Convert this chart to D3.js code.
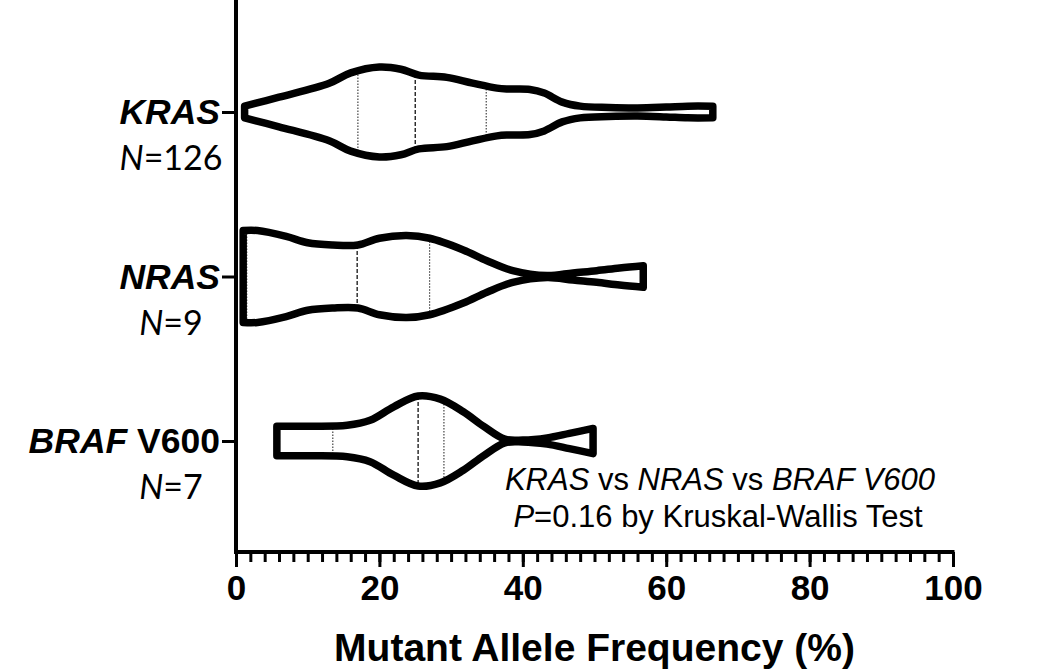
<!DOCTYPE html>
<html>
<head>
<meta charset="utf-8">
<script src="https://cdn.jsdelivr.net/npm/d3@7"></script>
<style>
  body { margin: 0; background: #fff; }
  svg { display: block; }
  text { fill: #000; }
</style>
</head>
<body>
<div id="chart"></div>
<script>
// groups, sample sizes
var groups = ["KRAS", "NRAS", "BRAF V600"];
var counts = [126, 9, 7];

// violin outlines: value (%) and relative half-width
var krasX = [1.2, 6, 13, 16, 20, 23, 25.5, 29.4, 33, 36.4, 38, 41, 43, 45.5, 48, 52, 56, 60, 63, 66.5];
var krasD = [0.13, 0.33, 0.64, 0.87, 1.0, 0.95, 0.82, 0.77, 0.64, 0.53, 0.51, 0.50, 0.42, 0.22, 0.13, 0.10, 0.09, 0.11, 0.13, 0.13];
var nrasX = [1.0, 3, 7, 10, 13.5, 17, 20, 23.8, 27, 31.7, 35, 38.6, 43.4, 47, 50.3, 53.5, 56.8];
var nrasD = [1.02, 1.02, 0.89, 0.75, 0.70, 0.70, 0.85, 0.91, 0.85, 0.59, 0.35, 0.13, 0.02, 0.08, 0.13, 0.19, 0.24];
var brafX = [5.7, 10, 15.5, 18.7, 22, 25.4, 28.5, 31.7, 34.5, 37.5, 40, 43.4, 46.5, 49.8];
var brafD = [0.33, 0.33, 0.35, 0.46, 0.76, 1.0, 0.93, 0.65, 0.33, 0.04, 0.02, 0.07, 0.17, 0.28];

// quartiles
var q1 = [17, 1.5, 13.5];
var medians = [25, 16.9, 25.4];
var q3 = [34.9, 27, 29];

var xTicks = [0, 20, 40, 60, 80, 100];

var width = 1050, height = 670;

var svg = d3.select("#chart").append("svg")
  .attr("width", width)
  .attr("height", height);

var x = d3.scaleLinear().domain([0, 100]).range([236, 953]);
var y = d3.scalePoint().domain(groups).range([112, 441]);
var w = d3.scaleLinear().domain([0, 1]).range([0, 45]);
var axisY = 552;

var profiles = [
  d3.zip(krasX, krasD),
  d3.zip(nrasX, nrasD),
  d3.zip(brafX, brafD)
];

// half width at a value (linear between outline points)
function halfAt(p, v) {
  var xs = p.map(d => d[0]), ds = p.map(d => d[1]);
  return w(d3.scaleLinear().domain(xs).range(ds)(v));
}

// violins
groups.forEach(function(g, i) {
  var cy = y(g);
  var area = d3.area()
    .curve(d3.curveCatmullRom.alpha(0.5))
    .x(d => x(d[0]))
    .y0(d => cy - w(d[1]))
    .y1(d => cy + w(d[1]));

  var gEl = svg.append("g");
  gEl.append("path")
    .datum(profiles[i])
    .attr("d", area)
    .attr("fill", "#fff")
    .attr("stroke", "none");

  // quartile lines
  var lines = [
    {v: q1[i], dash: "1.5,1.5", sw: 1.2, col: "#444"},
    {v: medians[i], dash: "4,2", sw: 1.4, col: "#222"},
    {v: q3[i], dash: "1.5,1.5", sw: 1.2, col: "#444"}
  ];
  gEl.selectAll("line.q")
    .data(lines)
    .enter().append("line")
    .attr("class", "q")
    .attr("x1", d => x(d.v))
    .attr("x2", d => x(d.v))
    .attr("y1", d => cy - halfAt(profiles[i], d.v))
    .attr("y2", d => cy + halfAt(profiles[i], d.v))
    .attr("stroke", d => d.col)
    .attr("stroke-width", d => d.sw)
    .attr("stroke-dasharray", d => d.dash);

  gEl.append("path")
    .datum(profiles[i])
    .attr("d", area)
    .attr("fill", "none")
    .attr("stroke", "#000")
    .attr("stroke-width", 7.5)
    .attr("stroke-linejoin", "round");
});

// x axis: minor ticks every 2
svg.append("g")
  .attr("transform", "translate(0," + axisY + ")")
  .call(d3.axisBottom(x).tickValues(d3.range(0, 101, 2)).tickSize(10).tickFormat(""))
  .call(g => g.select(".domain").remove())
  .call(g => g.selectAll("line").attr("stroke", "#000").attr("stroke-width", 3));

var xAxis = svg.append("g")
  .attr("transform", "translate(0," + axisY + ")")
  .call(d3.axisBottom(x).tickValues(xTicks).tickSize(15).tickSizeOuter(0).tickPadding(8));
xAxis.select(".domain").attr("stroke-width", 4).attr("d", "M" + (x(0) - 2) + ",0H" + (x(100) + 1.5));
xAxis.selectAll("line").attr("stroke-width", 3);
xAxis.selectAll("text")
  .attr("font-family", "'Liberation Sans', Arial, sans-serif")
  .attr("font-weight", "bold")
  .attr("font-size", 35);

// y axis line
svg.append("line")
  .attr("x1", x(0)).attr("x2", x(0))
  .attr("y1", 0).attr("y2", axisY + 2)
  .attr("stroke", "#000")
  .attr("stroke-width", 4);

var yAxis = svg.append("g")
  .attr("transform", "translate(" + x(0) + ",0)")
  .call(d3.axisLeft(y).tickSize(14).tickFormat(""));
yAxis.select(".domain").remove();
yAxis.selectAll("line").attr("stroke-width", 3);

// category labels
var labels = svg.append("g")
  .attr("font-family", "'Liberation Sans', Arial, sans-serif")
  .attr("font-weight", "bold")
  .attr("font-size", 35.5)
  .attr("text-anchor", "end");

groups.forEach(function(g, i) {
  var parts = g.split(" ");
  var t = labels.append("text")
    .attr("x", x(0) - 16)
    .attr("y", y(g) + 12);
  t.append("tspan").attr("font-style", "italic").text(parts[0]);
  if (parts[1]) t.append("tspan").text(" " + parts[1]);
});

// N labels
var nLabels = svg.append("g")
  .attr("font-family", "Lato, 'Open Sans', sans-serif")
  .attr("font-size", 34)
  .attr("text-anchor", "middle");
groups.forEach(function(g, i) {
  var t = nLabels.append("text")
    .attr("x", 171)
    .attr("y", y(g) + 58);
  t.append("tspan").attr("font-style", "italic").text("N");
  t.append("tspan").text("=" + counts[i]);
});

// test annotation
var note = svg.append("g")
  .attr("font-family", "'Liberation Sans', Arial, sans-serif")
  .attr("font-size", 31)
  .attr("text-anchor", "middle");
var l1 = note.append("text").attr("x", 720).attr("y", 490);
l1.append("tspan").attr("font-style", "italic").text("KRAS");
l1.append("tspan").text(" vs ");
l1.append("tspan").attr("font-style", "italic").text("NRAS");
l1.append("tspan").text(" vs ");
l1.append("tspan").attr("font-style", "italic").text("BRAF V600");
var l2 = note.append("text").attr("x", 718).attr("y", 527);
l2.append("tspan").attr("font-style", "italic").text("P");
l2.append("tspan").text("=0.16 by Kruskal-Wallis Test");

// x axis title
svg.append("text")
  .attr("x", (x(0) + x(100)) / 2)
  .attr("y", 661)
  .attr("text-anchor", "middle")
  .attr("font-family", "'Liberation Sans', Arial, sans-serif")
  .attr("font-weight", "bold")
  .attr("font-size", 39)
  .text("Mutant Allele Frequency (%)");
</script>
</body>
</html>
